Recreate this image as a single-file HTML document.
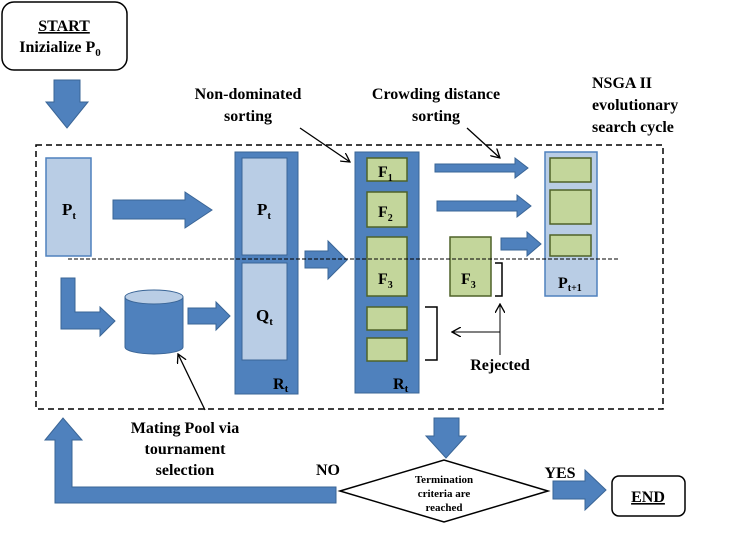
<!DOCTYPE html>
<html><head><meta charset="utf-8"><style>body{margin:0;background:#fff}svg{display:block}</style></head><body>
<svg width="740" height="536" viewBox="0 0 740 536" xmlns="http://www.w3.org/2000/svg" font-family="Liberation Serif, serif" font-weight="bold">
<defs><marker id="ah" markerWidth="10" markerHeight="10" refX="9" refY="5" orient="auto" markerUnits="userSpaceOnUse"><path d="M0,0 L9,5 L0,10" fill="none" stroke="#000" stroke-width="1.3"/></marker></defs>
<g fill="#4f81bd" stroke="#3a6596" stroke-width="1">
<!-- start down arrow -->
<path d="M54,80 H80 V102 H88 L67,128 L46,102 H54 Z"/>
<!-- Pt -> R -->
<path d="M113,200 H185 V192 L212,210 L185,228 V219 H113 Z"/>
<!-- R -> F -->
<path d="M305,251 H328 V241 L347,260 L328,279 V268 H305 Z"/>
<!-- L arrow -->
<path d="M61,278 H75 V312 H100 V307 L115,321 L100,336 V329 H61 Z"/>
<!-- cyl -> Qt -->
<path d="M188,308 H216 V302 L230,316 L216,330 V324 H188 Z"/>
<!-- F arrows -->
<path d="M435,164 H515 V158 L528,168 L515,178 V172 H435 Z"/>
<path d="M437,201 H517 V195 L531,206 L517,217 V211 H437 Z"/>
<path d="M501,238 H527 V232 L541,244 L527,256 V250 H501 Z"/>
<!-- down to diamond -->
<path d="M434,418 H459 V436 H466 L446,458 L426,436 H434 Z"/>
<!-- loop -->
<path d="M336,487 V503 H55 V440 H45 L63,418 L82,440 H72 V487 Z"/>
<!-- yes arrow -->
<path d="M553,481 H585 V470 L606,490 L585,510 V499 H553 Z"/>
</g>
<!-- start box -->
<rect x="2" y="2" width="125" height="68" rx="12" fill="#fff" stroke="#000" stroke-width="1.5"/>
<text x="64" y="31" text-anchor="middle" font-size="16" text-decoration="underline">START</text>
<text x="60" y="52" text-anchor="middle" font-size="16">Inizialize P<tspan font-size="11" dy="4">0</tspan></text>
<!-- labels -->
<g font-size="16" text-anchor="middle">
<text x="248" y="99">Non-dominated</text><text x="248" y="121">sorting</text>
<text x="436" y="99">Crowding distance</text><text x="436" y="121">sorting</text>
<text x="185" y="433">Mating Pool via</text><text x="185" y="454">tournament</text><text x="185" y="475">selection</text>
<text x="328" y="475">NO</text><text x="560" y="478">YES</text>
<text x="500" y="370">Rejected</text>
</g>
<g font-size="16"><text x="592" y="88">NSGA II</text><text x="592" y="110">evolutionary</text><text x="592" y="132">search cycle</text></g>
<line x1="300" y1="128" x2="350" y2="162" stroke="#000" stroke-width="1.3" marker-end="url(#ah)"/>
<line x1="467" y1="128" x2="500" y2="158" stroke="#000" stroke-width="1.3" marker-end="url(#ah)"/>
<line x1="205" y1="410" x2="178" y2="354" stroke="#000" stroke-width="1.3" marker-end="url(#ah)"/>
<!-- dashed box -->
<rect x="36" y="145" width="627" height="264" fill="none" stroke="#000" stroke-width="1.5" stroke-dasharray="6,4"/>
<!-- Pt -->
<rect x="46" y="158" width="45" height="98" fill="#b9cde5" stroke="#4f81bd" stroke-width="1.5"/>
<text x="62" y="215" font-size="17">P<tspan font-size="11" dy="4">t</tspan></text>
<!-- R1 -->
<rect x="235" y="152" width="63" height="242" fill="#4f81bd" stroke="#3a6596"/>
<rect x="242" y="158" width="45" height="97" fill="#b9cde5" stroke="#3a6596"/>
<rect x="242" y="263" width="45" height="97" fill="#b9cde5" stroke="#3a6596"/>
<text x="257" y="215" font-size="17">P<tspan font-size="11" dy="4">t</tspan></text>
<text x="256" y="321" font-size="17">Q<tspan font-size="11" dy="4">t</tspan></text>
<text x="273" y="389" font-size="16">R<tspan font-size="11" dy="3">t</tspan></text>
<!-- cylinder -->
<path d="M125,297 V347 A29,7 0 0 0 183,347 V297 Z" fill="#4f81bd" stroke="#3a6596"/>
<ellipse cx="154" cy="297" rx="29" ry="7" fill="#b9cde5" stroke="#3a6596"/>
<!-- R2 -->
<rect x="355" y="152" width="64" height="241" fill="#4f81bd" stroke="#3a6596"/>
<g fill="#c3d69b" stroke="#4f6228" stroke-width="1.5">
<rect x="367" y="158" width="40" height="23"/><rect x="367" y="192" width="40" height="35"/><rect x="367" y="237" width="40" height="59"/>
<rect x="367" y="307" width="40" height="23"/><rect x="367" y="338" width="40" height="23"/>
<rect x="450" y="237" width="41" height="59"/>
</g>
<text x="378" y="177" font-size="16">F<tspan font-size="10" dy="4">1</tspan></text>
<text x="378" y="217" font-size="16">F<tspan font-size="10" dy="4">2</tspan></text>
<text x="378" y="284" font-size="16">F<tspan font-size="10" dy="4">3</tspan></text>
<text x="461" y="284" font-size="16">F<tspan font-size="10" dy="4">3</tspan></text>
<text x="393" y="389" font-size="16">R<tspan font-size="11" dy="3">t</tspan></text>
<!-- Pt+1 -->
<rect x="545" y="152" width="52" height="144" fill="#b9cde5" stroke="#4f81bd" stroke-width="1.5"/>
<g fill="#c3d69b" stroke="#4f6228" stroke-width="1.5">
<rect x="550" y="158" width="41" height="24"/><rect x="550" y="190" width="41" height="34"/><rect x="550" y="235" width="41" height="21"/>
</g>
<text x="558" y="288" font-size="16">P<tspan font-size="10" dy="3">t+1</tspan></text>
<!-- dashed line -->
<line x1="68" y1="259" x2="620" y2="259" stroke="#000" stroke-width="1" stroke-dasharray="4,2"/>
<!-- brackets -->
<path d="M495,263 H502 V296 H495" fill="none" stroke="#000" stroke-width="1.5"/>
<path d="M425,307 H437 V360 H425" fill="none" stroke="#000" stroke-width="1.5"/>
<path d="M500,355 V304" stroke="#000" stroke-width="1" marker-end="url(#ah)"/>
<path d="M500,332 H452" stroke="#000" stroke-width="1" marker-end="url(#ah)"/>
<!-- diamond -->
<path d="M340,491 L444,460 L548,491 L444,522 Z" fill="#fff" stroke="#000" stroke-width="1.5"/>
<g font-size="11" text-anchor="middle"><text x="444" y="483">Termination</text><text x="444" y="497">criteria are</text><text x="444" y="511">reached</text></g>
<!-- END -->
<rect x="612" y="476" width="73" height="40" rx="7" fill="#fff" stroke="#000" stroke-width="1.5"/>
<text x="648" y="502" text-anchor="middle" font-size="16" text-decoration="underline">END</text>
</svg>
</body></html>
